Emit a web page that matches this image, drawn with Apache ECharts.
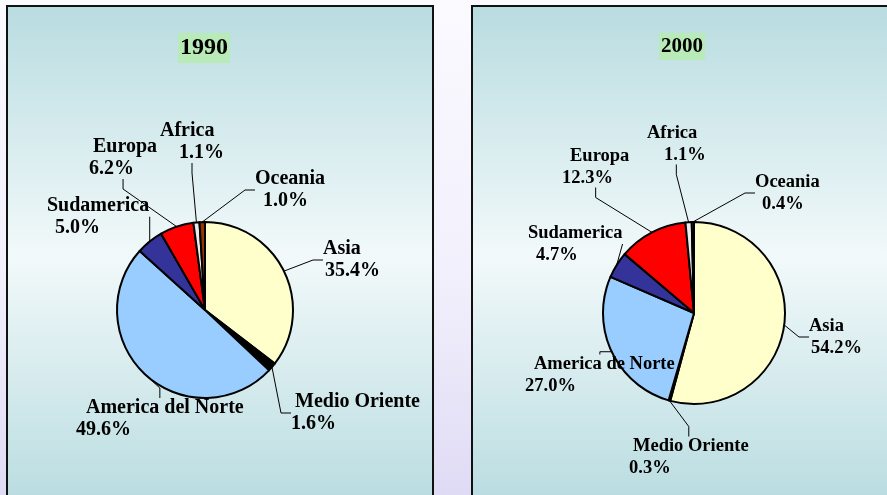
<!DOCTYPE html>
<html>
<head>
<meta charset="utf-8">
<script src="https://cdn.jsdelivr.net/npm/echarts@6/dist/echarts.min.js"></script>
<style>
  html, body { margin: 0; padding: 0; }
  body { width: 887px; height: 495px; background: linear-gradient(to bottom, #FAFAFF 0%, #F2F0FC 55%, #E0DBF5 100%); }
  #chart { width: 887px; height: 495px; }
</style>
</head>
<body>
<div id="chart"></div>
<script>
// ---- data ----
var regions1990 = ['Asia', 'Medio Oriente', 'America del Norte', 'Sudamerica', 'Europa', 'Africa', 'Oceania'];
var values1990  = [35.4, 1.6, 49.6, 5.0, 6.2, 1.1, 1.0];
var regions2000 = ['Asia', 'Medio Oriente', 'America de Norte', 'Sudamerica', 'Europa', 'Africa', 'Oceania'];
var values2000  = [54.2, 0.3, 27.0, 4.7, 12.3, 1.1, 0.4];
var years = ['1990', '2000'];

// ---- styling / layout (not data) ----
var sliceColors = ['#FFFFCC', '#000000', '#99CCFF', '#333399', '#FF0000', '#ECECEC', '#993300'];
// label layout: [left x, top y, name indent, percent indent]
var labelLayout1990 = [
  [323, 238, 0, 2],   // Asia
  [291, 391, 4, 0],   // Medio Oriente
  [76, 397, 10, 0],   // America del Norte
  [47, 195, 0, 8],    // Sudamerica
  [89, 136, 4, 0],    // Europa
  [160, 120, 0, 19],  // Africa
  [255, 168, 0, 8]    // Oceania
];
var labelLayout2000 = [
  [809, 315, 0, 2],
  [629, 435, 4, 0],
  [525, 353, 9, 0],
  [528, 222, 0, 8],
  [562, 145, 8, 0],
  [647, 122, 0, 17],
  [755, 171, 0, 7]
];

function buildData(names, vals, layout, fs) {
  return names.map(function (n, i) {
    return {
      name: n,
      value: vals[i],
      itemStyle: { color: sliceColors[i] },
      label: {
        formatter: '{n|' + n + '}\n{p|' + vals[i].toFixed(1) + '%}',
        rich: {
          n: { fontFamily: 'Liberation Serif', fontWeight: 'bold', fontSize: fs, color: '#000', lineHeight: 22, padding: [0, 0, 0, layout[i][2]] },
          p: { fontFamily: 'Liberation Serif', fontWeight: 'bold', fontSize: fs, color: '#000', lineHeight: 22, padding: [0, 0, 0, layout[i][3]] }
        }
      }
    };
  });
}

function makeLayoutFn(layout) {
  return function (params) {
    var p = layout[params.dataIndex];
    return { x: p[0], y: p[1], align: 'left', verticalAlign: 'top', hideOverlap: false };
  };
}

var panelFill = {
  type: 'linear', x: 0, y: 0, x2: 0, y2: 1,
  colorStops: [
    { offset: 0, color: '#B8DCE0' },
    { offset: 0.5, color: '#F2F9FA' },
    { offset: 1, color: '#B8DCE0' }
  ]
};

var chart = echarts.init(document.getElementById('chart'));
chart.setOption({
  backgroundColor: 'transparent',
  animation: false,
  graphic: [
    { type: 'rect', z: -10, shape: { x: 7, y: 6, width: 426, height: 500 },
      style: { fill: panelFill, stroke: '#111', lineWidth: 2 } },
    { type: 'rect', z: -10, shape: { x: 472, y: 6, width: 430, height: 500 },
      style: { fill: panelFill, stroke: '#111', lineWidth: 2 } }
  ],
  title: [
    { text: years[0], left: 178, top: 33, backgroundColor: '#B8EBB8', padding: [3, 2, 3, 2],
      textStyle: { fontFamily: 'Liberation Serif', fontWeight: 'bold', fontSize: 24, color: '#000', lineHeight: 24 } },
    { text: years[1], left: 659, top: 33, backgroundColor: '#B8EBB8', padding: [3, 2, 3, 2],
      textStyle: { fontFamily: 'Liberation Serif', fontWeight: 'bold', fontSize: 21, color: '#000', lineHeight: 21 } }
  ],
  series: [
    {
      type: 'pie', center: [205, 310], radius: 88, startAngle: 90, clockwise: true,
      avoidLabelOverlap: false, silent: true,
      itemStyle: { borderColor: '#000', borderWidth: 2 },
      label: { show: true, position: 'outside' },
      labelLine: { show: true, length: 10, length2: 10, lineStyle: { color: '#000', width: 1 } },
      labelLayout: makeLayoutFn(labelLayout1990),
      data: buildData(regions1990, values1990, labelLayout1990, 20)
    },
    {
      type: 'pie', center: [694, 313], radius: 91, startAngle: 90, clockwise: true,
      avoidLabelOverlap: false, silent: true,
      itemStyle: { borderColor: '#000', borderWidth: 2 },
      label: { show: true, position: 'outside' },
      labelLine: { show: true, length: 10, length2: 10, lineStyle: { color: '#000', width: 1 } },
      labelLayout: makeLayoutFn(labelLayout2000),
      data: buildData(regions2000, values2000, labelLayout2000, 18.5)
    }
  ]
});
</script>
</body>
</html>
